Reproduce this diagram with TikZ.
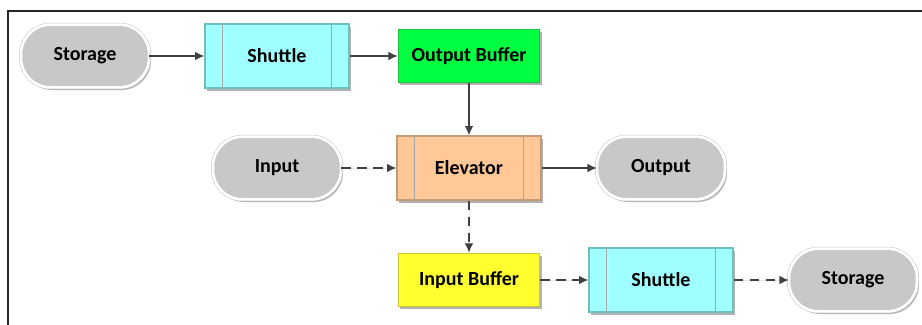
\documentclass[tikz,border=0pt]{standalone}
\usepackage{fontspec}
\setmainfont{Carlito}
\usepackage{tikz}
\usetikzlibrary{arrows.meta,positioning,shadows}

\definecolor{termgray}{HTML}{C8C8C8}
\definecolor{shuttlefill}{HTML}{A0FFFF}
\definecolor{shuttleline}{HTML}{6FBFBF}
\definecolor{elevfill}{HTML}{FFC896}
\definecolor{elevline}{HTML}{C49A78}
\definecolor{obfill}{HTML}{00FF40}
\definecolor{obline}{HTML}{1FC040}
\definecolor{ibfill}{HTML}{FFFF30}
\definecolor{ibline}{HTML}{C8C830}
\definecolor{arrowgray}{HTML}{404040}

\begin{document}
\begin{tikzpicture}[
		font=\fontsize{15}{17}\selectfont\bfseries,
		shadowed/.style={drop shadow={shadow xshift=1.5pt, shadow yshift=-2pt, opacity=0.3, fill=black}},
		term/.style={shadowed, rounded corners=22pt, minimum width=96pt, minimum height=47pt,
			fill=termgray, draw=gray!45, double=white, double distance=2pt},
		proc/.style={shadowed, draw=#1, line width=1pt, minimum width=108pt, minimum height=48pt,
			path picture={
				\draw[gray!70, line width=0.8pt] ([xshift=13pt]path picture bounding box.north west) -- ([xshift=13pt]path picture bounding box.south west);
				\draw[gray!70, line width=0.8pt] ([xshift=-13pt]path picture bounding box.north east) -- ([xshift=-13pt]path picture bounding box.south east);
			}},
		buffer/.style={shadowed, draw=#1, line width=1pt, minimum width=106pt, minimum height=40pt},
		arr/.style={-{Latex[length=7pt,width=6.5pt]}, draw=arrowgray, fill=arrowgray, line width=0.9pt},
		darr/.style={arr, dash pattern=on 7pt off 5pt},
		node distance=84pt and 144pt,
		on grid
	]
	\useasboundingbox (-63.75pt,-201.75pt) rectangle (627.75pt,42pt);
	\draw[line width=1.1pt, black!85] (-57.75pt,-201.75pt) -- (-57.75pt,33.75pt) -- (627.75pt,33.75pt);

	% top row
	\node[term] (store1) {Storage};
	\node[proc=shuttleline, fill=shuttlefill, right=of store1] (shut1) {Shuttle};
	\node[buffer=obline, fill=obfill, right=of shut1] (outbuf) {Output Buffer};

	% middle row
	\node[proc=elevline, fill=elevfill, below=of outbuf] (elev) {Elevator};
	\node[term, left=of elev] (input) {Input};
	\node[term, right=of elev] (output) {Output};

	% bottom row
	\node[buffer=ibline, fill=ibfill, below=of elev] (inbuf) {Input Buffer};
	\node[proc=shuttleline, fill=shuttlefill, right=of inbuf] (shut2) {Shuttle};
	\node[term, right=of shut2] (store2) {Storage};

	\draw[arr] (store1) -- (shut1);
	\draw[arr] (shut1) -- (outbuf);
	\draw[arr] (outbuf) -- (elev);
	\draw[darr] (input) -- (elev);
	\draw[arr] (elev) -- (output);
	\draw[darr] (elev) -- (inbuf);
	\draw[darr] (inbuf) -- (shut2);
	\draw[darr] (shut2) -- (store2);
\end{tikzpicture}
\end{document}
